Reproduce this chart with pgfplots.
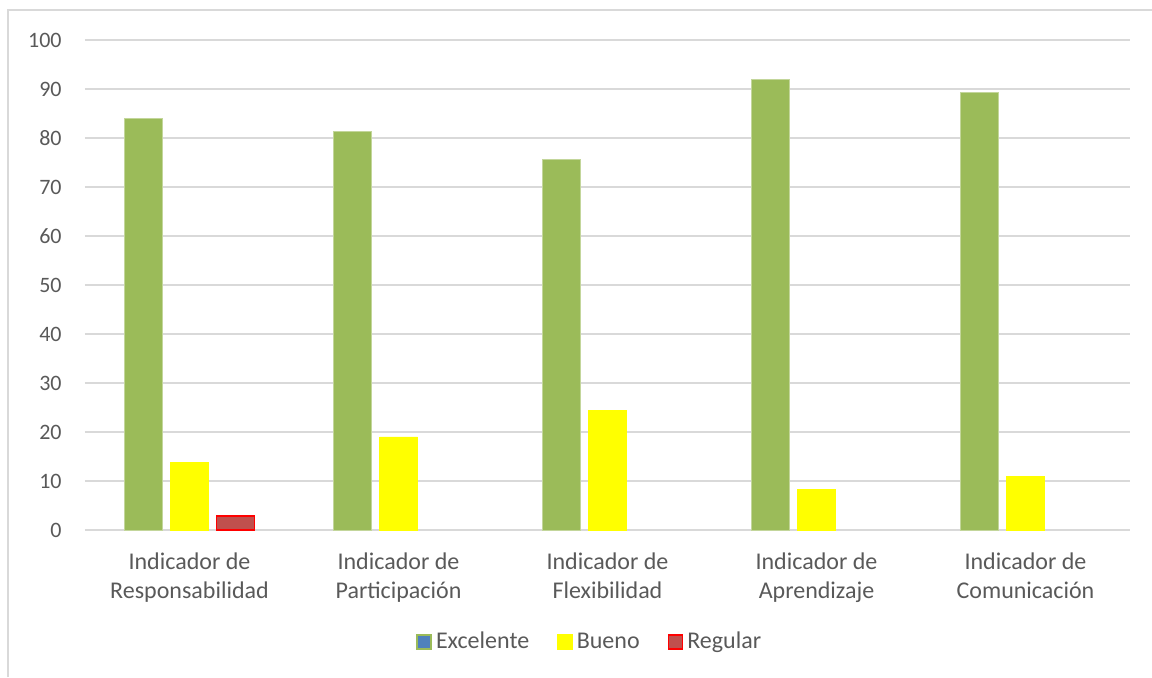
\documentclass[border=0pt]{standalone}
\usepackage{pgfplots}
\pgfplotsset{compat=1.18}
\usepackage{fontspec}
\setmainfont{Carlito}
\definecolor{excgreen}{HTML}{9BBB59}
\definecolor{excgreenedge}{HTML}{C3D69B}
\definecolor{excblue}{HTML}{4F81BD}
\definecolor{buenoyel}{HTML}{FFFF00}
\definecolor{regred}{HTML}{C0504D}
\definecolor{regedge}{HTML}{FF0000}
\definecolor{gridgrey}{HTML}{D9D9D9}
\definecolor{txtgrey}{HTML}{595959}
\begin{document}
\begin{tikzpicture}
\path[use as bounding box] (0,0) rectangle (576pt,-338.5pt);
\draw[gridgrey,line width=0.75pt] (4pt,-338.5pt) -- (4pt,-5pt) -- (576pt,-5pt);
\begin{axis}[
  at={(42.5pt,-265pt)}, anchor=south west,
  scale only axis, width=522.5pt, height=245pt,
  ymin=0, ymax=100, ytick={0,10,...,100},
  xmin=-0.5, xmax=4.5, xtick={0,1,2,3,4},
  xticklabels={Indicador de\\Responsabilidad, Indicador de\\Participación, Indicador de\\Flexibilidad, Indicador de\\Aprendizaje, Indicador de\\Comunicación},
  axis line style={draw=none},
  major tick length=0pt,
  ymajorgrids, grid style={gridgrey, line width=0.75pt},
  tick label style={text=txtgrey},
  yticklabel style={font=\fontsize{11}{14.5}\selectfont, anchor=east, inner sep=0pt, xshift=-11.5pt},
  /pgf/number format/assume math mode=true,
  xticklabel style={font=\fontsize{12}{14.5}\selectfont, anchor=north, inner sep=0pt, yshift=-11pt, align=center},
  ybar, bar width=19pt,
  legend style={at={(0.484,-0.2286)}, anchor=center, draw=none, fill=none,
    legend columns=3, font=\fontsize{12}{13}\selectfont, text=txtgrey,
    /tikz/every even column/.append style={column sep=12pt}},
  legend cell align=left,
]
\addplot[bar shift=-23pt, fill=excgreen, draw=excgreenedge, line width=0.4pt,
  legend image code/.code={\draw[fill=excblue,draw=excgreen,line width=0.8pt] (0pt,-3.5pt) rectangle (7pt,3.5pt);}]
  coordinates {(0,84.0) (1,81.3) (2,75.7) (3,92.0) (4,89.3)};
\addplot[bar shift=0pt, fill=buenoyel, draw=buenoyel, line width=0.4pt,
  legend image code/.code={\draw[fill=buenoyel,draw=buenoyel,line width=0.8pt] (0pt,-3.5pt) rectangle (7pt,3.5pt);}]
  coordinates {(0,13.7) (1,19.0) (2,24.4) (3,8.2) (4,11.0)};
\addplot[bar shift=23pt, fill=regred, draw=regedge, line width=0.9pt,
  legend image code/.code={\draw[fill=regred,draw=regedge,line width=0.8pt] (0pt,-3.5pt) rectangle (7pt,3.5pt);}]
  coordinates {(0,2.8)};
\legend{Excelente, Bueno, Regular}
\end{axis}
\end{tikzpicture}
\end{document}
